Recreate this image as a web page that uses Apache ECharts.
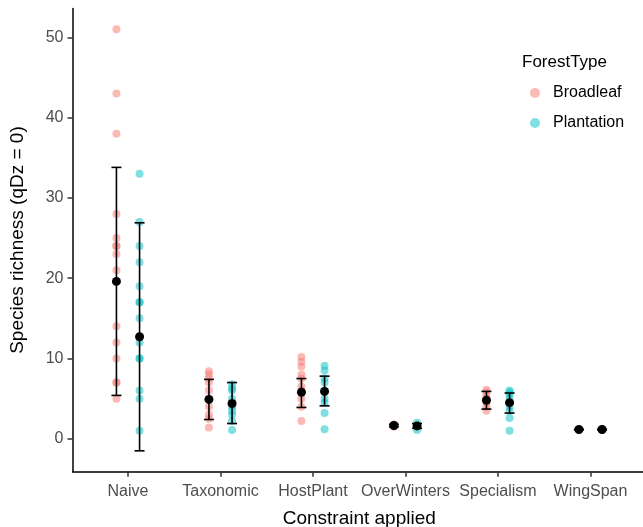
<!DOCTYPE html>
<html>
<head>
<meta charset="utf-8">
<script src="https://cdn.jsdelivr.net/npm/echarts@6/dist/echarts.min.js"></script>
<style>
html,body{margin:0;padding:0;background:#fff;}
#chart{width:643px;height:527px;}
</style>
</head>
<body>
<div id="chart"></div>
<script>
const categories = ['Naive', 'Taxonomic', 'HostPlant', 'OverWinters', 'Specialism', 'WingSpan'];
const yTicks = [0, 10, 20, 30, 40, 50];

const broadleafPoints = [
  [51, 43, 38, 28, 25, 24, 24, 23, 21, 14, 12, 10, 7, 7, 5],
  [8.4, 8.0, 7.5, 7.0, 6.0, 5.0, 4.0, 3.0, 2.5, 1.4],
  [10.2, 9.6, 9.0, 8.0, 7.5, 6.5, 6.0, 5.0, 4.0, 2.2],
  [1.8, 1.6, 1.5],
  [6.1, 5.8, 5.3, 5.0, 4.5, 4.0, 3.5],
  [1.2, 1.1]
];
const plantationPoints = [
  [33, 27, 24, 22, 19, 17, 17, 15, 12, 10, 10, 6, 5, 1],
  [6.8, 6.3, 6.0, 5.0, 4.0, 3.5, 3.0, 2.2, 1.1],
  [9.1, 8.5, 7.5, 7.0, 6.0, 5.0, 4.5, 3.2, 1.2],
  [2.0, 1.7, 1.5, 1.1],
  [6.0, 5.8, 5.5, 5.0, 4.5, 4.0, 3.5, 2.6, 1.0],
  [1.2, 1.1]
];

const broadleafMean  = [19.6, 4.9, 5.8, 1.65, 4.8, 1.15];
const broadleafLower = [5.4, 2.4, 3.9, 1.5, 3.7, 1.1];
const broadleafUpper = [33.8, 7.4, 7.5, 1.8, 5.9, 1.2];

const plantationMean  = [12.7, 4.4, 5.9, 1.6, 4.5, 1.15];
const plantationLower = [-1.5, 1.9, 4.1, 1.3, 3.2, 1.1];
const plantationUpper = [26.9, 7.0, 7.8, 1.9, 5.7, 1.2];

const DODGE = 0.125;

function pts(groups, off) {
  const out = [];
  groups.forEach((g, i) => g.forEach(v => out.push([i + 1 + off, v])));
  return out;
}
function means(m, off) { return m.map((v, i) => [i + 1 + off, v]); }
function errs(lo, hi, off) { return lo.map((v, i) => [i + 1 + off, v, hi[i]]); }

function renderErr(params, api) {
  const x = api.value(0);
  const p1 = api.coord([x, api.value(1)]);
  const p2 = api.coord([x, api.value(2)]);
  const hw = 5;
  const st = { stroke: '#000', lineWidth: 1.6 };
  return {
    type: 'group',
    children: [
      { type: 'line', shape: { x1: p1[0], y1: p1[1], x2: p2[0], y2: p2[1] }, style: st },
      { type: 'line', shape: { x1: p1[0] - hw, y1: p1[1], x2: p1[0] + hw, y2: p1[1] }, style: st },
      { type: 'line', shape: { x1: p2[0] - hw, y1: p2[1], x2: p2[0] + hw, y2: p2[1] }, style: st }
    ]
  };
}

const chart = echarts.init(document.getElementById('chart'), null, { renderer: 'canvas' });
const FONT = 'Liberation Sans, Arial, sans-serif';

chart.setOption({
  animation: false,
  backgroundColor: '#fff',
  textStyle: { fontFamily: FONT },
  grid: { left: 72.5, right: -3, top: 8.4, bottom: 55.3, containLabel: false, outerBoundsMode: 'none' },
  graphic: [{
    type: 'text', left: 522, top: 54,
    style: { text: 'ForestType', fontSize: 17, fill: '#000', fontFamily: FONT }
  }],
  legend: {
    data: ['Broadleaf', 'Plantation'],
    orient: 'vertical',
    left: 525, top: 80,
    itemWidth: 10, itemHeight: 10,
    itemGap: 14,
    icon: 'circle',
    textStyle: { fontSize: 16, color: '#000', fontFamily: FONT, padding: [0, 0, 0, 8] }
  },
  xAxis: {
    type: 'value', min: 0.4, max: 6.6,
    splitLine: { show: false },
    axisLine: { onZero: false, lineStyle: { color: '#000', width: 1.5 } },
    axisTick: { show: true, customValues: [1, 2, 3, 4, 5, 6], length: 5, lineStyle: { color: '#333', width: 1.5 } },
    axisLabel: {
      customValues: [1, 2, 3, 4, 5, 6],
      formatter: v => categories[Math.round(v) - 1],
      fontSize: 16, color: '#4d4d4d', margin: 12, fontFamily: FONT
    },
    name: 'Constraint applied', nameLocation: 'middle', nameGap: 38,
    nameTextStyle: { fontSize: 19, color: '#000', fontFamily: FONT }
  },
  yAxis: {
    type: 'value', min: -4.1, max: 53.6,
    splitLine: { show: false },
    axisLine: { show: true, onZero: false, lineStyle: { color: '#000', width: 1.5 } },
    axisTick: { show: true, customValues: yTicks, length: 5, lineStyle: { color: '#333', width: 1.5 } },
    axisLabel: { customValues: yTicks, fontSize: 16, color: '#4d4d4d', margin: 9, fontFamily: FONT },
    name: 'Species richness (qDz = 0)', nameLocation: 'middle', nameRotate: 90, nameGap: 45,
    nameTextStyle: { fontSize: 19, color: '#000', fontFamily: FONT }
  },
  series: [
    { name: 'Broadleaf', type: 'scatter', symbolSize: 8, data: pts(broadleafPoints, -DODGE),
      itemStyle: { color: 'rgba(248,118,109,0.5)', opacity: 1 }, z: 2 },
    { name: 'Plantation', type: 'scatter', symbolSize: 8, data: pts(plantationPoints, DODGE),
      itemStyle: { color: 'rgba(0,191,196,0.5)', opacity: 1 }, z: 2 },
    { name: 'errB', type: 'custom', renderItem: renderErr, data: errs(broadleafLower, broadleafUpper, -DODGE), z: 3 },
    { name: 'errP', type: 'custom', renderItem: renderErr, data: errs(plantationLower, plantationUpper, DODGE), z: 3 },
    { name: 'meanB', type: 'scatter', symbolSize: 9, data: means(broadleafMean, -DODGE), itemStyle: { color: '#000', opacity: 1 }, z: 4 },
    { name: 'meanP', type: 'scatter', symbolSize: 9, data: means(plantationMean, DODGE), itemStyle: { color: '#000', opacity: 1 }, z: 4 }
  ]
});
</script>
</body>
</html>
